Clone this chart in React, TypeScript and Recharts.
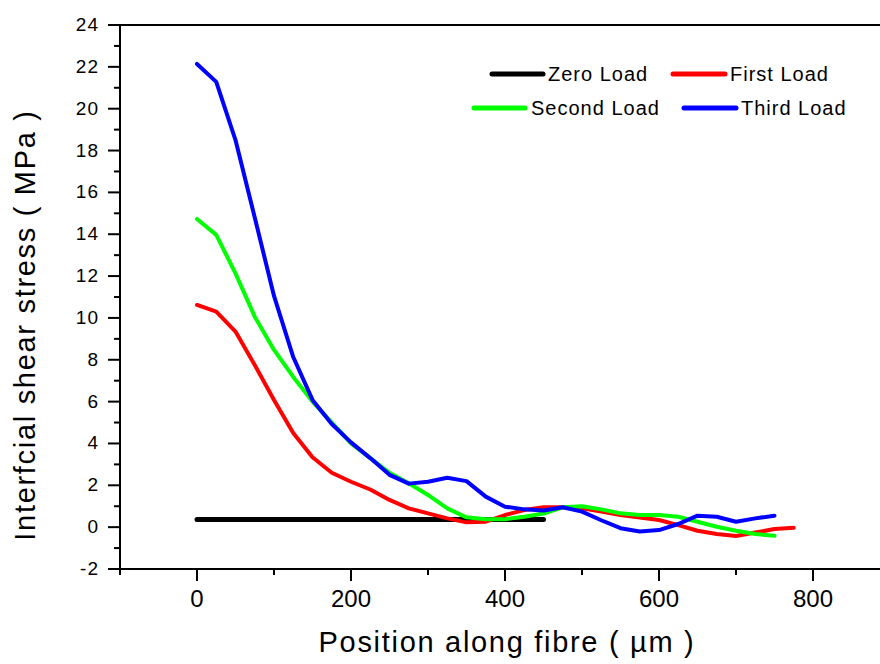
import React from 'react';
import { LineChart, Line, XAxis, YAxis, ReferenceLine, Customized } from 'recharts';

// position along fibre (µm)
const positions = [0, 25, 50, 75, 100, 125, 150, 175, 200, 225, 250, 275, 300, 325, 350, 375, 400, 425, 450, 475, 500, 525, 550, 575, 600, 625, 650, 675, 700, 725, 750, 775];

// interfacial shear stress (MPa) for each load step
const zeroLoad = [0.37, 0.37, 0.37, 0.37, 0.37, 0.37, 0.37, 0.37, 0.37, 0.37, 0.37, 0.37, 0.37, 0.37, 0.37, 0.37, 0.37, 0.37, 0.37];
const firstLoad = [10.62, 10.3, 9.35, 7.75, 6.08, 4.5, 3.34, 2.6, 2.17, 1.8, 1.3, 0.9, 0.66, 0.42, 0.23, 0.26, 0.58, 0.82, 0.95, 0.95, 0.9, 0.75, 0.58, 0.46, 0.34, 0.1, -0.17, -0.33, -0.42, -0.26, -0.09, -0.03];
const secondLoad = [14.73, 13.97, 12.13, 10.06, 8.47, 7.18, 6.0, 5.0, 4.0, 3.3, 2.6, 2.1, 1.54, 0.9, 0.47, 0.38, 0.38, 0.5, 0.65, 0.95, 1.0, 0.85, 0.66, 0.58, 0.58, 0.5, 0.26, 0.02, -0.17, -0.33, -0.41];
const thirdLoad = [22.14, 21.28, 18.5, 14.8, 11.05, 8.13, 6.08, 4.93, 4.05, 3.3, 2.5, 2.08, 2.17, 2.36, 2.2, 1.46, 0.98, 0.85, 0.8, 0.95, 0.74, 0.33, -0.05, -0.21, -0.14, 0.15, 0.55, 0.5, 0.26, 0.42, 0.55];

const seriesNames = ['Zero Load', 'First Load', 'Second Load', 'Third Load'];
const xTicks = [-100, 0, 100, 200, 300, 400, 500, 600, 700, 800, 900];
const yTicks = [-2, -1, 0, 1, 2, 3, 4, 5, 6, 7, 8, 9, 10, 11, 12, 13, 14, 15, 16, 17, 18, 19, 20, 21, 22, 23, 24];

const data = positions.map((pos, i) => ({
  pos,
  zero: zeroLoad[i] ?? null,
  first: firstLoad[i] ?? null,
  second: secondLoad[i] ?? null,
  third: thirdLoad[i] ?? null,
}));

const FONT = '"Liberation Sans", Arial, sans-serif';

const series = [
  { key: 'zero', name: seriesNames[0], color: '#000000', width: 5 },
  { key: 'first', name: seriesNames[1], color: '#ff0000', width: 4 },
  { key: 'second', name: seriesNames[2], color: '#00ff00', width: 4 },
  { key: 'third', name: seriesNames[3], color: '#0000ff', width: 4 },
];

// legend placement (two rows, two columns)
const legendSpots = [
  { x1: 492, x2: 543, y: 74, tx: 548, ty: 81 },
  { x1: 673, x2: 725, y: 74, tx: 730, ty: 81 },
  { x1: 474, x2: 525, y: 108, tx: 531, ty: 115 },
  { x1: 684, x2: 736, y: 108, tx: 741, ty: 115 },
];

function YTick({ x, y, payload }: any) {
  const major = Math.abs(payload.value % 2) === 0;
  return (
    <g>
      <line x1={x - (major ? 12 : 6)} x2={x} y1={y} y2={y} stroke="#000" strokeWidth={2} />
      {major && (
        <text x={x - 21} y={y} dy={6} textAnchor="end" fontSize={19} fontFamily={FONT} letterSpacing={1} fill="#000">
          {payload.value}
        </text>
      )}
    </g>
  );
}

function XTick({ x, y, payload }: any) {
  const major = Math.abs(payload.value % 200) === 0;
  return (
    <g>
      <line x1={x} x2={x} y1={y} y2={y + (major ? 12 : 6)} stroke="#000" strokeWidth={2} />
      {major && (
        <text x={x} y={y + 38} textAnchor="middle" fontSize={24} fontFamily={FONT} fill="#000">
          {payload.value}
        </text>
      )}
    </g>
  );
}

function Extras() {
  return (
    <g fontFamily={FONT} fill="#000">
      <text x={507} y={652} textAnchor="middle" fontSize={29} letterSpacing={1.7}>
        Position along fibre ( µm )
      </text>
      <text x={35} y={325} textAnchor="middle" fontSize={29} letterSpacing={1.7} transform="rotate(-90 35 325)">
        Interfcial shear stress ( MPa )
      </text>
      {series.map((s, i) => {
        const p = legendSpots[i];
        return (
          <g key={s.key}>
            <line x1={p.x1} x2={p.x2} y1={p.y} y2={p.y} stroke={s.color} strokeWidth={5} strokeLinecap="round" />
            <text x={p.tx} y={p.ty} fontSize={20} letterSpacing={1}>{s.name}</text>
          </g>
        );
      })}
    </g>
  );
}

export default function App() {
  return (
    <div style={{ position: 'absolute', left: 0, top: 0, width: 880, height: 664, overflow: 'hidden', background: '#fff' }}>
      <LineChart width={900} height={664} data={data} margin={{ top: 25, right: 10, bottom: 0, left: 0 }}>
        <XAxis
          dataKey="pos"
          type="number"
          domain={[-100, 900]}
          ticks={xTicks}
          interval={0}
          height={95}
          tickSize={0}
          tickMargin={0}
          tick={<XTick />}
          axisLine={{ stroke: '#000', strokeWidth: 2 }}
          tickLine={false}
        />
        <YAxis
          type="number"
          domain={[-2, 24]}
          ticks={yTicks}
          interval={0}
          width={120}
          tickSize={0}
          tickMargin={0}
          tick={<YTick />}
          axisLine={{ stroke: '#000', strokeWidth: 2 }}
          tickLine={false}
        />
        <ReferenceLine y={24} stroke="#000" strokeWidth={2} ifOverflow="visible" />
        {series.map((s) => (
          <Line
            key={s.key}
            type="linear"
            dataKey={s.key}
            name={s.name}
            stroke={s.color}
            strokeWidth={s.width}
            strokeLinecap="round"
            strokeLinejoin="round"
            dot={false}
            activeDot={false}
            isAnimationActive={false}
          />
        ))}
        <Customized component={Extras} />
      </LineChart>
    </div>
  );
}
